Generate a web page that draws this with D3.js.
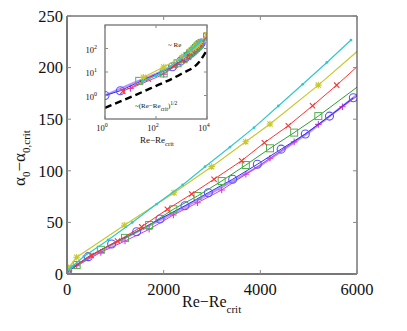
<!DOCTYPE html>
<html><head><meta charset="utf-8">
<script src="https://cdn.jsdelivr.net/npm/d3@7"></script>
<style>body{margin:0;background:#fff}svg{display:block}text{font-family:"Liberation Serif","Times New Roman",serif;fill:#111}</style>
</head><body>
<script>
// ---------- data ----------
const xTicks = [0, 2000, 4000, 6000];
const yTicks = [0, 50, 100, 150, 200, 250];
const insetXTicks = [1, 100, 10000];
const insetYTicks = [1, 10, 100];

const cyanX = [30, 100, 350, 850, 1350, 1855, 2393, 2855, 3372, 3869, 4372, 4876, 5376, 5876];
const cyanY = [4, 7, 17, 33, 50, 67.8, 86.3, 104, 123, 141.8, 162.8, 183.8, 205, 226.7];

const yellowX = [32, 200, 1186, 2214, 2993, 3697, 4200, 5200, 10000];
const yellowY = [6, 16.2, 47.2, 78.8, 104, 128.2, 145.3, 183, 378];

const redX = [5, 50, 500, 1045, 1545, 2076, 2579, 3042, 3614, 4083, 4579, 5080, 5580, 10000];
const redY = [1.5, 5, 18, 32, 45.8, 62.7, 77.5, 91.8, 109.8, 127.2, 143.7, 163, 183, 370];

const greenX = [22, 200, 700, 1200, 1700, 2200, 2700, 3200, 3700, 4200, 4700, 5200, 10000];
const greenY = [4.2, 8.7, 23.5, 35, 47.5, 62.7, 75.6, 90.1, 105.6, 121.8, 137, 153, 321];

const magentaX = [10, 200, 700, 1200, 1700, 2200, 2700, 3200, 3700, 4200, 4700, 5200, 5700, 10000];
const magentaY = [2, 8, 21, 32, 43.3, 57.2, 69.1, 81.4, 96.6, 112.1, 128, 145, 162, 310];

const violetX = [1, 10, 500, 1000, 2000, 3000, 4000, 5000, 6000, 10000];
const violetY = [1, 3, 17, 30, 54, 79, 105, 137, 173.5, 320];

const blueX = [1, 4, 441, 924, 1441, 1924, 2441, 2924, 3428, 3938, 4431, 4931, 5431, 5924];
const blueY = [1, 1.6, 16.8, 29, 41, 53.3, 66.2, 78.8, 91.8, 106.3, 121, 135.7, 153, 170.8];

const dashX = [1, 60, 1000, 5000, 10000];
const dashY = [0.3, 2, 8.5, 27, 86];

const zip = (xs, ys) => xs.map((x, i) => [x, ys[i]]);
const series = [
  {pts: zip(violetX, violetY), color: "#a070ff", width: 2.2, marker: null, opacity: 0.75},
  {pts: zip(magentaX, magentaY), color: "#d040d0", width: 1, marker: "plus"},
  {pts: zip(blueX, blueY), color: "#3030f0", width: 1, marker: "circle", mcolor: "#5555ff"},
  {pts: zip(greenX, greenY), color: "#30a030", width: 1, marker: "square", mcolor: "#50b050"},
  {pts: zip(redX, redY), color: "#ff3030", width: 1, marker: "x"},
  {pts: zip(yellowX, yellowY), color: "#c8c830", width: 1.2, marker: "star"},
  {pts: zip(cyanX, cyanY), color: "#30c8d0", width: 1.2, marker: "dot"}
];

// ---------- layout ----------
const W = 407, H = 331;
const M = {l: 67, r: 357, t: 16, b: 274};
const I = {l: 105, r: 207, t: 25, b: 119};

const svg = d3.select("body").append("svg").attr("width", W).attr("height", H);

const x = d3.scaleLinear().domain([0, 6000]).range([M.l, M.r]);
const y = d3.scaleLinear().domain([0, 250]).range([M.b, M.t]);
const xi = d3.scaleLog().domain([1, 10000]).range([I.l, I.r]);
const yi = d3.scaleLog().domain([0.1, 1000]).range([I.b, I.t]);

svg.append("clipPath").attr("id", "mclip").append("rect")
  .attr("x", M.l).attr("y", M.t).attr("width", M.r - M.l).attr("height", M.b - M.t);
svg.append("clipPath").attr("id", "iclip").append("rect")
  .attr("x", I.l).attr("y", I.t).attr("width", I.r - I.l).attr("height", I.b - I.t);

function drawMarker(g, type, cx, cy, color) {
  const s = 3.3;
  if (type === "circle") g.append("circle").attr("cx", cx).attr("cy", cy).attr("r", 4).attr("fill", "none").attr("stroke", color).attr("stroke-width", 1.1);
  else if (type === "square") g.append("rect").attr("x", cx - 3.5).attr("y", cy - 3.5).attr("width", 7).attr("height", 7).attr("fill", "none").attr("stroke", color).attr("stroke-width", 1);
  else if (type === "dot") g.append("circle").attr("cx", cx).attr("cy", cy).attr("r", 1.4).attr("fill", color);
  else {
    const p = d3.path();
    if (type === "plus" || type === "star") { p.moveTo(cx - s, cy); p.lineTo(cx + s, cy); p.moveTo(cx, cy - s); p.lineTo(cx, cy + s); }
    if (type === "x" || type === "star") { const k = s * 0.8; p.moveTo(cx - k, cy - k); p.lineTo(cx + k, cy + k); p.moveTo(cx - k, cy + k); p.lineTo(cx + k, cy - k); }
    g.append("path").attr("d", p.toString()).attr("stroke", color).attr("stroke-width", 1.1).attr("fill", "none");
  }
}

function drawSeries(g, sx, sy, filterPos) {
  series.forEach(s => {
    const pts = filterPos ? s.pts.filter(d => d[0] > 0 && d[1] > 0) : s.pts;
    g.append("path").datum(pts)
      .attr("d", d3.line().x(d => sx(d[0])).y(d => sy(d[1])))
      .attr("fill", "none").attr("stroke", s.color).attr("stroke-width", s.width)
      .attr("opacity", s.opacity || 1);
    if (s.marker) pts.forEach(d => drawMarker(g, s.marker, sx(d[0]), sy(d[1]), s.mcolor || s.color));
  });
}

// ---------- main plot ----------
const gm = svg.append("g").attr("clip-path", "url(#mclip)");
drawSeries(gm, x, y, false);

// frame
svg.append("line").attr("x1", M.l).attr("x2", M.r).attr("y1", M.t).attr("y2", M.t).attr("stroke", "#333").attr("stroke-width", 1);
svg.append("line").attr("x1", M.r).attr("x2", M.r).attr("y1", M.t).attr("y2", M.b).attr("stroke", "#333").attr("stroke-width", 1);
svg.append("line").attr("x1", M.l).attr("x2", M.r).attr("y1", M.b).attr("y2", M.b).attr("stroke", "#777").attr("stroke-width", 2);
svg.append("line").attr("x1", M.l).attr("x2", M.l).attr("y1", M.t).attr("y2", M.b).attr("stroke", "#777").attr("stroke-width", 2);

// ticks (inside) bottom/top
xTicks.forEach(t => {
  svg.append("line").attr("x1", x(t)).attr("x2", x(t)).attr("y1", M.b).attr("y2", M.b - 4).attr("stroke", "#888");
  svg.append("line").attr("x1", x(t)).attr("x2", x(t)).attr("y1", M.t).attr("y2", M.t + 4).attr("stroke", "#888");
  svg.append("text").attr("x", x(t)).attr("y", 295).attr("text-anchor", "middle").attr("font-size", 16.5).text(t);
});
yTicks.forEach(t => {
  svg.append("line").attr("x1", M.l).attr("x2", M.l + 4).attr("y1", y(t)).attr("y2", y(t)).attr("stroke", "#888");
  svg.append("line").attr("x1", M.r).attr("x2", M.r - 4).attr("y1", y(t)).attr("y2", y(t)).attr("stroke", "#888");
  svg.append("text").attr("x", 63).attr("y", y(t)).attr("dy", "0.35em").attr("text-anchor", "end").attr("font-size", 16.5).text(t);
});

// axis titles
const xt = svg.append("text").attr("x", 182).attr("y", 307).attr("font-size", 16);
xt.append("tspan").text("Re\u2212Re");
xt.append("tspan").attr("dy", 6).attr("font-size", 11).text("crit");

const yt = svg.append("text").attr("transform", "translate(25,158) rotate(-90)").attr("text-anchor", "middle").attr("font-size", 17);
yt.append("tspan").text("\u03b1");
yt.append("tspan").attr("dy", 5).attr("font-size", 11).text("0");
yt.append("tspan").attr("dy", -5).text("\u2212\u03b1");
yt.append("tspan").attr("dy", 5).attr("font-size", 11).text("0,crit");

// ---------- inset ----------
svg.append("rect").attr("x", I.l).attr("y", I.t).attr("width", I.r - I.l).attr("height", I.b - I.t).attr("fill", "#fff");
const gi = svg.append("g").attr("clip-path", "url(#iclip)");
gi.append("path").datum(zip(dashX, dashY))
  .attr("d", d3.line().curve(d3.curveMonotoneX).x(d => xi(d[0])).y(d => yi(d[1])))
  .attr("fill", "none").attr("stroke", "#000").attr("stroke-width", 2.4).attr("stroke-dasharray", "7,4");
drawSeries(gi, xi, yi, true);
svg.append("rect").attr("x", I.l).attr("y", I.t).attr("width", I.r - I.l).attr("height", I.b - I.t)
  .attr("fill", "none").attr("stroke", "#666").attr("stroke-width", 1.2);

insetXTicks.forEach((t, i) => {
  svg.append("line").attr("x1", xi(t)).attr("x2", xi(t)).attr("y1", I.b).attr("y2", I.b - 3).attr("stroke", "#888");
  svg.append("line").attr("x1", xi(t)).attr("x2", xi(t)).attr("y1", I.t).attr("y2", I.t + 3).attr("stroke", "#888");
  const tx = svg.append("text").attr("x", xi(t) - 3).attr("y", 131).attr("text-anchor", "middle").attr("font-size", 8.5);
  tx.append("tspan").text("10");
  tx.append("tspan").attr("dy", -4).attr("font-size", 6).text(String(Math.round(Math.log10(t))));
});
insetYTicks.forEach(t => {
  svg.append("line").attr("x1", I.l).attr("x2", I.l + 3).attr("y1", yi(t)).attr("y2", yi(t)).attr("stroke", "#888");
  svg.append("line").attr("x1", I.r).attr("x2", I.r - 3).attr("y1", yi(t)).attr("y2", yi(t)).attr("stroke", "#888");
  const ty = svg.append("text").attr("x", 97).attr("y", yi(t) + 4).attr("text-anchor", "end").attr("font-size", 8.5);
  ty.append("tspan").text("10");
  ty.append("tspan").attr("dy", -4).attr("font-size", 6).text(String(Math.round(Math.log10(t))));
});
const ixt = svg.append("text").attr("x", 140).attr("y", 143).attr("font-size", 9);
ixt.append("tspan").text("Re\u2212Re");
ixt.append("tspan").attr("dy", 3).attr("font-size", 6.5).text("crit");

const t1 = svg.append("text").attr("x", 168).attr("y", 47).attr("font-size", 7);
t1.text("~ Re");
const t2 = svg.append("text").attr("x", 135).attr("y", 108).attr("font-size", 7);
t2.append("tspan").text("~(Re\u2212Re");
t2.append("tspan").attr("dy", 2.5).attr("font-size", 5.5).text("crit");
t2.append("tspan").attr("dy", -2.5).text(")");
t2.append("tspan").attr("dy", -3).attr("font-size", 5.5).text("1/2");
</script>
</body></html>
